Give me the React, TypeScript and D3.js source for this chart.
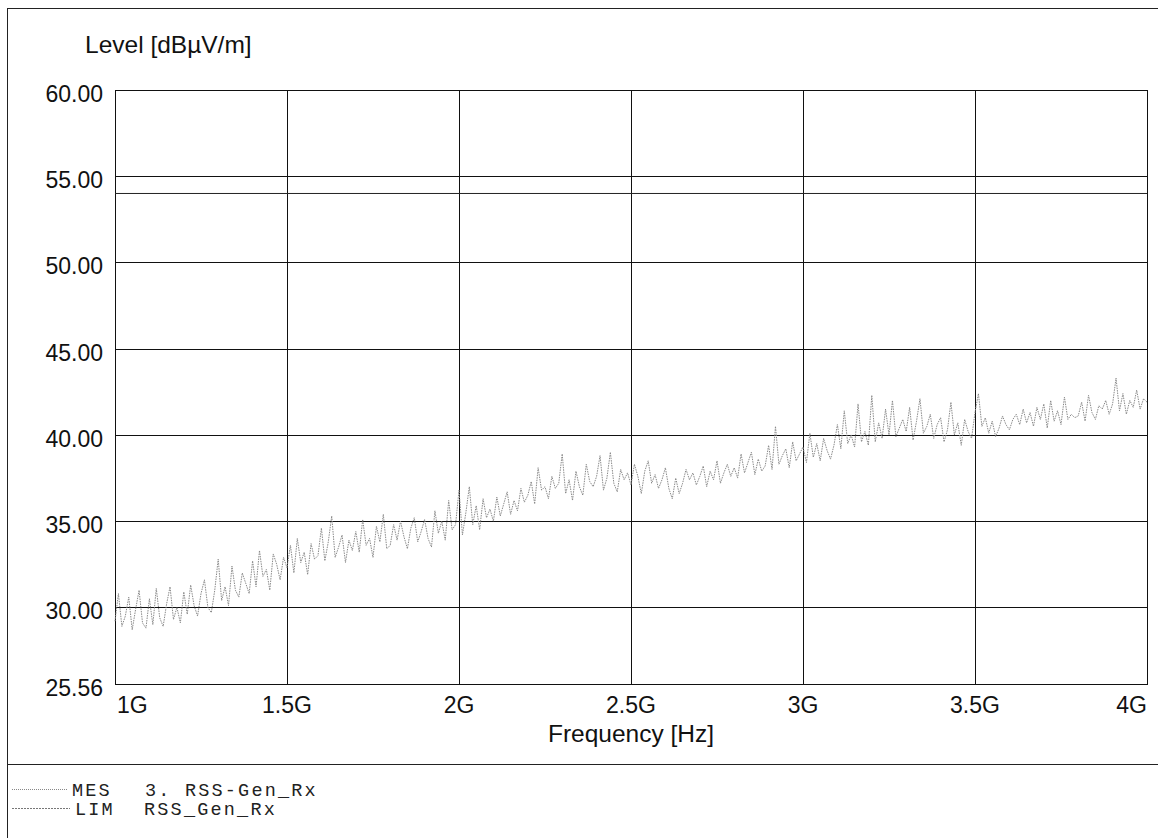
import React from "react";
import * as d3 from "d3";

// ---------- data ----------
const yTicks = [25.56, 30, 35, 40, 45, 50, 55, 60];
const yTickLabels = ["25.56", "30.00", "35.00", "40.00", "45.00", "50.00", "55.00", "60.00"];
const xTicks = [1e9, 1.5e9, 2e9, 2.5e9, 3e9, 3.5e9, 4e9];
const xTickLabels = ["1G", "1.5G", "2G", "2.5G", "3G", "3.5G", "4G"];

const mesStartHz = 1e9;
const mesStepHz = 1e7;
// MES trace (dBµV/m), one row per 100 MHz
const mesLevels = [
  29.2, 30.8, 28.9, 29.5, 30.6, 28.7, 29.9, 31.0, 29.1, 28.8,
  30.5, 29.0, 31.1, 29.4, 28.9, 30.2, 31.2, 29.3, 30.0, 29.1,
  30.9, 29.6, 31.3, 30.1, 29.5, 30.8, 31.6, 30.0, 29.7, 31.0,
  32.8, 30.4, 31.2, 30.1, 32.4, 31.0, 30.6, 32.0, 31.4, 30.8,
  32.7, 31.2, 33.3, 31.8, 32.2, 31.0, 33.1, 32.5, 31.6, 32.9,
  32.3, 33.6, 32.0, 34.0, 32.6, 33.2, 31.9, 33.7, 32.8, 33.0,
  34.6, 32.7, 33.8, 35.3, 32.9, 33.5, 34.2, 32.6, 33.9, 33.3,
  34.4, 33.2, 35.1, 33.6, 34.0, 32.9, 34.7, 33.8, 35.4, 33.4,
  33.6, 34.8, 33.9, 35.0, 34.1, 33.4, 34.6, 35.2, 33.8, 34.4,
  35.1, 34.0, 33.5, 35.6, 34.3, 35.0, 33.9, 36.2, 34.5, 34.8,
  36.8, 34.2, 35.5, 37.0, 34.8, 35.9, 34.5, 36.3, 35.2, 35.7,
  35.0, 36.4, 35.3, 36.0, 36.7, 35.4, 36.2, 35.6, 36.9, 36.1,
  36.5, 37.3, 36.0, 38.1, 36.8, 37.0, 36.3, 37.6, 36.9, 37.2,
  38.9, 36.6, 37.4, 36.2, 37.9, 37.0, 36.5, 38.3, 37.3, 37.0,
  37.6, 38.8, 36.8, 37.5, 39.0, 37.2, 36.7, 38.0, 37.4, 37.8,
  37.1, 38.3, 37.6, 36.6, 37.9, 38.5, 37.2, 37.7, 36.9, 37.4,
  38.1, 36.9, 36.3, 37.5, 36.6, 37.2, 38.0, 37.4, 37.8, 37.1,
  37.6, 38.2, 37.0, 37.9, 37.4, 38.5, 37.2, 37.8, 38.3, 37.6,
  38.1, 37.5, 38.9, 37.8, 38.4, 39.0, 37.7, 38.6, 37.9, 38.2,
  39.4, 38.0, 40.5, 38.3, 38.8, 39.2, 38.1, 39.6, 38.5, 38.9,
  39.3, 38.4, 40.1, 38.7, 39.5, 38.5, 39.8, 39.1, 38.6, 39.4,
  40.6, 39.2, 41.4, 39.5, 40.0, 39.3, 41.8, 39.6, 40.2, 39.4,
  42.3, 39.6, 40.7, 39.8, 41.5, 40.0, 42.0, 39.9, 40.4, 40.9,
  40.2, 41.6, 39.7, 40.8, 42.1, 40.1, 40.5, 41.2, 39.8, 40.6,
  41.0, 39.6, 40.3, 41.9, 40.0, 40.7, 39.4, 40.9, 40.2, 39.8,
  41.3, 42.4, 40.5, 41.0, 40.1, 40.8, 39.9, 40.4, 41.1, 40.6,
  40.3, 40.9, 41.2, 40.6, 41.5, 40.7, 41.3, 40.5, 41.6, 40.9,
  41.8, 40.4, 42.0, 40.8, 41.4, 40.6, 42.2, 40.9, 41.2, 41.0,
  41.1, 41.9, 40.8, 42.3, 41.3, 40.9, 41.7, 41.5, 42.0, 41.2,
  41.8, 43.3, 41.4, 42.4, 41.2, 42.0, 41.6, 42.6, 41.5, 42.1,
  41.9,
];

const limFreqs = [1e9, 4e9];
const limLevels = [54, 54];

const yTitle = "Level [dBµV/m]";
const xTitle = "Frequency [Hz]";
const legendItems = [
  { key: "MES", text: "3. RSS-Gen_Rx" },
  { key: "LIM", text: "RSS_Gen_Rx" },
];

// ---------- chart ----------
const W = 1158;
const H = 838;
const plot = { left: 115, right: 1147, top: 90, bottom: 684 };
const FONT = "'Liberation Sans', Arial, sans-serif";
const MONO = "'Liberation Mono', 'Courier New', monospace";

export default function App() {
  const x = d3.scaleLinear().domain([1e9, 4e9]).range([plot.left, plot.right]);
  const y = d3.scaleLinear().domain([25.56, 60]).range([plot.bottom, plot.top]);

  const mesData = mesLevels.map((v, i) => [mesStartHz + i * mesStepHz, v] as [number, number]);
  const limData = limFreqs.map((f, i) => [f, limLevels[i]] as [number, number]);
  const line = d3
    .line<[number, number]>()
    .x((d) => x(d[0]))
    .y((d) => y(d[1]));

  const gridColor = "#111";

  return (
    <svg
      width={W}
      height={H}
      style={{ position: "absolute", left: 0, top: 0, background: "#fff" }}
    >
      <rect x={0} y={0} width={W} height={H} fill="#fff" />
      {/* outer frame */}
      <line x1={7.5} y1={8} x2={7.5} y2={H} stroke="#222" strokeWidth={1} />
      <line x1={7} y1={8.5} x2={W} y2={8.5} stroke="#222" strokeWidth={1} />
      <line x1={7} y1={764.5} x2={W} y2={764.5} stroke="#222" strokeWidth={1.2} />

      {/* horizontal grid */}
      {yTicks
        .filter((t) => t > 25.56 && t < 60)
        .map((t) => (
          <line
            key={"hy" + t}
            x1={plot.left}
            x2={plot.right}
            y1={Math.round(y(t)) + 0.5}
            y2={Math.round(y(t)) + 0.5}
            stroke={gridColor}
            strokeWidth={1}
          />
        ))}
      {/* vertical grid */}
      {xTicks
        .filter((t) => t > 1e9 && t < 4e9)
        .map((t) => (
          <line
            key={"vx" + t}
            x1={Math.round(x(t)) + 0.5}
            x2={Math.round(x(t)) + 0.5}
            y1={plot.top}
            y2={plot.bottom}
            stroke={gridColor}
            strokeWidth={1}
          />
        ))}
      {/* plot border */}
      <rect
        x={plot.left + 0.5}
        y={plot.top + 0.5}
        width={plot.right - plot.left}
        height={plot.bottom - plot.top}
        fill="none"
        stroke={gridColor}
        strokeWidth={1}
      />

      {/* limit line */}
      <path d={line(limData) || ""} fill="none" stroke="#222" strokeWidth={1} />

      {/* measurement trace */}
      <path
        d={line(mesData) || ""}
        fill="none"
        stroke="#8a8a8a"
        strokeWidth={1}
        strokeDasharray="1.5,1"
      />

      {/* y tick labels */}
      {yTicks.map((t, i) => (
        <text
          key={"yl" + t}
          x={103}
          y={y(t) + 12}
          textAnchor="end"
          fontFamily={FONT}
          fontSize={23}
          fill="#111"
        >
          {yTickLabels[i]}
        </text>
      ))}
      {/* x tick labels */}
      {xTicks.map((t, i) => (
        <text
          key={"xl" + t}
          x={i === 0 ? x(t) + 2 : x(t)}
          y={713}
          textAnchor={i === 0 ? "start" : i === xTicks.length - 1 ? "end" : "middle"}
          fontFamily={FONT}
          fontSize={23}
          fill="#111"
        >
          {xTickLabels[i]}
        </text>
      ))}

      {/* titles */}
      <text x={85} y={53} fontFamily={FONT} fontSize={24.5} fill="#111">
        {yTitle}
      </text>
      <text
        x={(plot.left + plot.right) / 2}
        y={742}
        textAnchor="middle"
        fontFamily={FONT}
        fontSize={24.5}
        fill="#111"
      >
        {xTitle}
      </text>

      {/* legend */}
      <line x1={12} x2={68} y1={789.5} y2={789.5} stroke="#888" strokeWidth={1} strokeDasharray="1,1" />
      <line x1={12} x2={70} y1={808.5} y2={808.5} stroke="#777" strokeWidth={1} strokeDasharray="2,1" />
      {legendItems.map((it, i) => (
        <g key={it.key}>
          <text
            x={i === 0 ? 72 : 75}
            y={i === 0 ? 796 : 815}
            fontFamily={MONO}
            fontSize={18.5}
            letterSpacing={2.2}
            fill="#222"
          >
            {it.key}
          </text>
          <text
            x={i === 0 ? 145 : 144}
            y={i === 0 ? 796 : 815}
            fontFamily={MONO}
            fontSize={18.5}
            letterSpacing={2.2}
            fill="#222"
          >
            {it.text}
          </text>
        </g>
      ))}
    </svg>
  );
}
